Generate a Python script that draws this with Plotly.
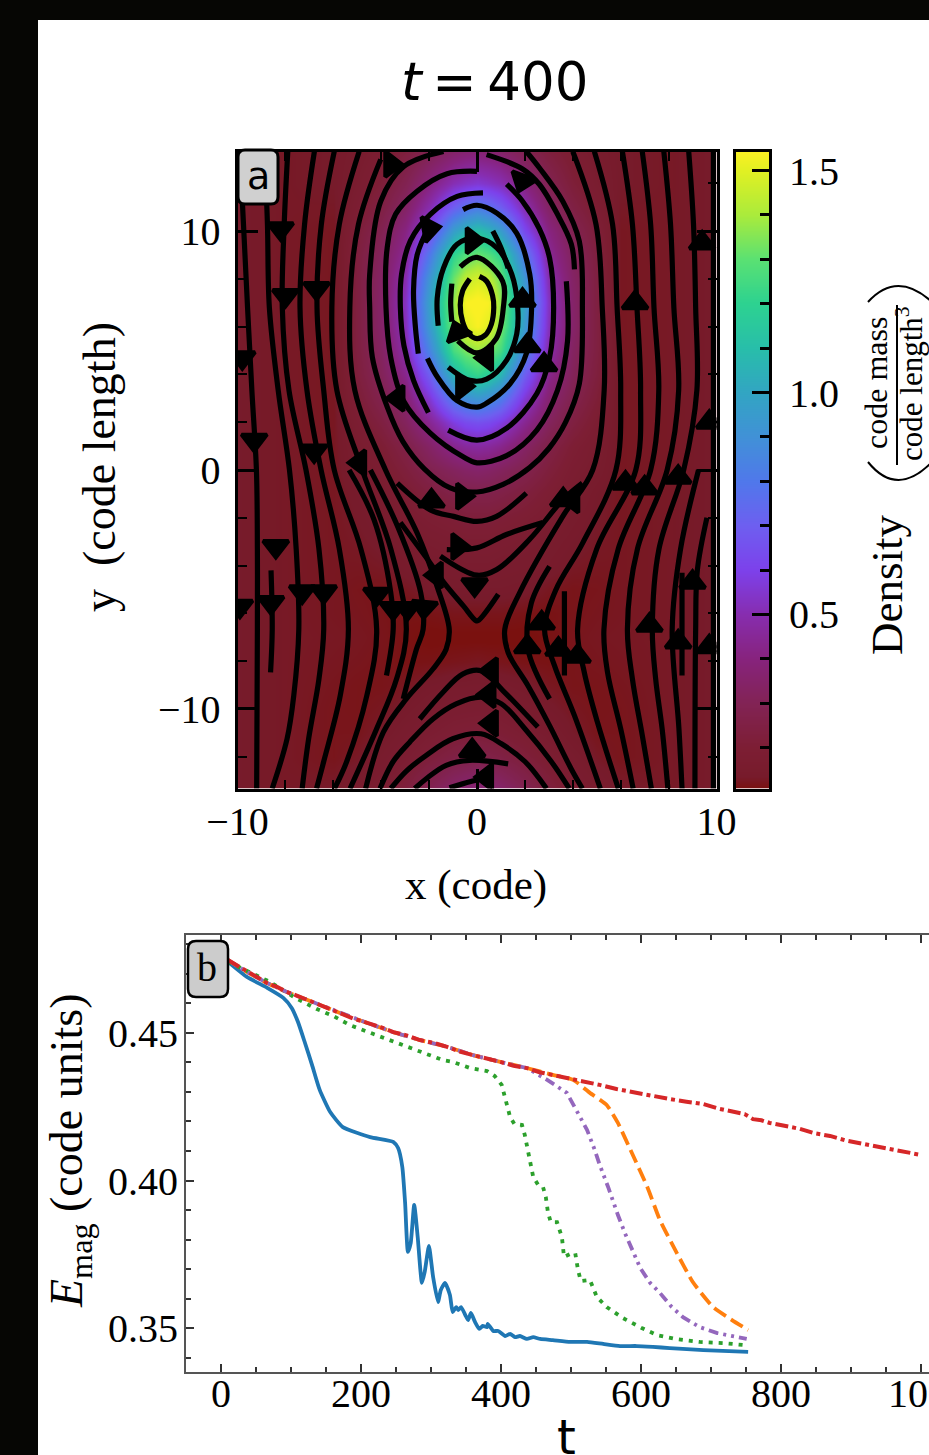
import plotly.graph_objects as go

W, H = 929, 1455
SERIF = "Liberation Serif"
SANS = "DejaVu Sans"

# ---------- panel a: density table (rows top to bottom, columns |x|) ----------
density_x_half = [0, .5, 1, 2, 3, 4, 5, 6, 8, 10]
density_y = [13.33, 12, 11, 10, 9, 8, 7, 6, 5, 4, 3, 2, 1, 0, -1, -2, -3, -4, -5, -6, -7, -8, -9, -10, -11, -12, -13.33]
density_half = [
    [.38, .37, .35, .29, .23, .185, .155, .135, .13, .135],
    [.56, .54, .51, .40, .29, .215, .17, .135, .13, .135],
    [.82, .77, .70, .50, .34, .25, .19, .13, .13, .135],
    [1.12, 1.07, .97, .63, .41, .29, .22, .125, .13, .135],
    [1.32, 1.28, 1.2, .8, .45, .32, .235, .125, .13, .135],
    [1.48, 1.44, 1.32, .92, .5, .34, .24, .125, .13, .135],
    [1.56, 1.54, 1.37, .98, .53, .35, .24, .125, .13, .135],
    [1.54, 1.5, 1.35, .95, .52, .35, .24, .125, .13, .135],
    [1.38, 1.34, 1.26, .85, .49, .33, .24, .125, .13, .135],
    [1.22, 1.17, 1.07, .7, .43, .31, .23, .125, .13, .135],
    [.93, .89, .82, .56, .37, .28, .21, .125, .13, .135],
    [.65, .63, .58, .44, .32, .24, .185, .125, .13, .135],
    [.47, .46, .43, .34, .26, .2, .165, .125, .13, .135],
    [.35, .34, .32, .28, .225, .18, .155, .125, .13, .135],
    [.27, .27, .26, .23, .195, .165, .14, .125, .13, .135],
    [.22, .22, .21, .195, .175, .15, .135, .125, .13, .135],
    [.185, .185, .18, .17, .155, .14, .13, .125, .13, .135],
    [.165, .165, .16, .155, .145, .13, .125, .125, .13, .135],
    [.145, .145, .145, .14, .125, .118, .12, .125, .13, .135],
    [.12, .12, .12, .115, .113, .118, .122, .125, .13, .135],
    [.105, .105, .105, .105, .112, .12, .125, .127, .13, .135],
    [.125, .122, .12, .115, .113, .118, .122, .125, .13, .135],
    [.155, .152, .15, .14, .125, .118, .118, .122, .13, .135],
    [.18, .178, .175, .16, .14, .125, .118, .12, .13, .135],
    [.215, .21, .205, .185, .16, .135, .12, .12, .13, .135],
    [.27, .26, .25, .22, .185, .155, .13, .12, .13, .135],
    [.38, .37, .35, .29, .23, .185, .155, .135, .13, .135],
]

# colour ramp: value, colour
ramp_values = [.108, .135, .2, .3, .4, .5, .6, .7, .8, .9, 1.0, 1.1, 1.2, 1.3, 1.4, 1.5, 1.543]
ramp_colors = ["#7a110f", "#771b2b", "#7d1e34", "#822355", "#87237d", "#872daf", "#7d41eb", "#6e5ff0", "#5078eb",
               "#4191d7", "#32a5c3", "#28beaa", "#2dd291", "#5ae173", "#aaeb3c", "#e1f023", "#faf023"]

# ---------- panel a: field lines (x, y in code units) ----------
ring1_x = [.1, .4, .65, .7, .6, .35, 0, -.35, -.6, -.7, -.6, -.3]
ring1_y = [8.1, 7.9, 7.3, 6.8, 6.1, 5.65, 5.5, 5.7, 6.2, 6.9, 7.5, 8.0]
ring2_x = [-.7, 0, 1.07, 1.1, .8, 0, -.8]
ring2_y = [8.5, 8.9, 7.9, 6.8, 5.5, 4.9, 5.4]
ring2b_x = [-1.05, -1.1, -1.05]
ring2b_y = [7.8, 7.0, 6.2]
ring3_x = [-1.62, -1.66, -1.4, -.83, 0, .83, 1.45, 1.7, 1.66, 1.24, .4, -.3, -1.2]
ring3_y = [6.04, 7.2, 8.45, 9.45, 9.7, 9.3, 8.2, 6.8, 5.7, 4.6, 3.8, 3.75, 4.3]
ring3b_x = [.66, 1.0, 1.3]
ring3b_y = [10, 9.3, 8.45]
ring4_x = [-.58, 0, .83, 1.66, 2.2, 2.28, 2.07, 1.37, .41, 0, -.83, -1.66, -2.07]
ring4_y = [10.9, 11.08, 10.75, 9.9, 8.2, 6.8, 4.9, 3.6, 2.8, 2.63, 2.9, 3.9, 4.67]
ring4b_x = [-1.95, -2.5, -2.65, -2.57, -2.45]
ring4b_y = [10.3, 9.0, 7.5, 5.96, 4.87]
ring5_x = [.25, -.83, -1.95, -2.78, -3.15, -3.2, -3.05, -2.65, -2.03]
ring5_y = [11.6, 11.45, 10.7, 9.6, 8.2, 6.8, 5.2, 3.75, 2.4]
ring5b_x = [-1.2, 0, 1.24, 2.5, 3.03, 3.2, 3.03, 2.6, 1.9, 1.24]
ring5b_y = [1.67, 1.25, 1.75, 3.2, 4.7, 6.8, 8.87, 10.1, 11.25, 11.96]
ring6_x = [0, -1.25, -2.5, -3.4, -3.75, -3.8, -3.6, -3.07, -1.95, -.58, 0, 1.24, 2.5, 3.36, 3.78, 3.73]
ring6_y = [12.5, 12.4, 11.67, 10.7, 9.3, 6.8, 4.7, 2.9, 1.54, .55, .3, .6, 1.67, 3.33, 5.4, 7.9]
ring6b_x = [4.07, 3.94, 3.36, 2.6, 1.9, .4]
ring6b_y = [8.4, 9.45, 10.7, 11.96, 12.6, 13.2]
ring7_x = [-1.4, -3.06, -4.02, -4.48, -4.48, -4.37, -3.75, -3.1, -2.2, -1.12, 0, 1.09, 2.2, 3.0, 3.7, 4.27, 4.4, 4.27, 3.58, 2.61, 2.06]
ring7_y = [13.33, 12.7, 11.25, 8.19, 6.8, 4.72, 2.64, 1.2, .05, -.75, -.92, -.6, .1, .9, 2.0, 3.6, 6.8, 9.58, 11.25, 12.64, 13.33]
arc_a_x = [-3.33, -1.95, -.98, 0, .82, 2.06]
arc_a_y = [-.55, -1.67, -1.94, -2.15, -1.94, -.97]
arc_c_x = [-1.26, 0, 1.23, 2.75]
arc_c_y = [-3.33, -3.26, -2.7, -2.2]
arc_d_x = [-1.53, 0, .82, 2.2, 3.58, 4.4]
arc_d_y = [-3.6, -4.4, -4.17, -2.9, -1.25, -.55]
vee_x = [-3.2, -1.95, -1.39, -.56, -.05, .05, .89]
vee_y = [-2.2, -3.9, -4.7, -5.7, -6.3, -6.3, -5.2]

left1_x = [-9.9, -9.75, -9.58, -9.4, -9.21, -9.17, -9.17, -9.2]
left1_y = [13.33, 10.28, 6.8, 3.33, 0, -3.3, -6.67, -13.33]
left2_x = [-8.87, -8.75, -8.67, -8.3, -7.83, -7.55, -7.44, -7.65, -7.93, -8.55]
left2_y = [13.33, 10.28, 6.8, 3.33, 0, -3.3, -6.67, -9.44, -11.25, -13.33]
left3_x = [-7.9, -8.05, -8.13, -7.85, -7.14, -6.6, -6.4, -6.6, -7.03, -7.3]
left3_y = [13.33, 10.28, 6.8, 3.33, 0, -3.3, -6.67, -8.75, -11.25, -13.33]
left4_x = [-6.79, -7.2, -7.39, -7.1, -6.51, -5.75, -5.37, -5.71, -6.4, -6.7]
left4_y = [13.33, 10.28, 6.8, 3.33, 0, -3.3, -6.67, -9.44, -12.2, -13.33]
left5_x = [-5.96, -6.5, -6.68, -6.4, -5.96, -4.85, -4.19, -4.6, -5.44, -5.95]
left5_y = [13.33, 10.28, 6.8, 3.33, 0, -3.3, -6.67, -9.44, -12.2, -13.33]
left6_x = [-4.92, -5.75, -6.06, -5.85, -4.79, -3.6, -2.95, -3.36, -4.19, -5.3]
left6_y = [13.33, 10.28, 6.8, 3.33, 0, -3.3, -6.67, -8.75, -10.83, -13.33]
left7_x = [-4.02, -4.95, -5.31, -5.1, -3.82, -2.5, -1.67, -1.16, -1.29, -1.84, -2.95, -3.91, -4.65]
left7_y = [13.0, 10.28, 6.8, 3.33, 0, -2.64, -4.86, -6.67, -7.5, -8.33, -9.58, -10.97, -13.33]
left_b1_x = [-8.6, -8.55, -8.62]
left_b1_y = [-4.2, -6.67, -8.47]
left_b2_x = [-5.34, -4.3, -3.6, -3.5, -3.78]
left_b2_y = [0, -2.08, -5.14, -6.67, -8.6]
left_b3_x = [-4.45, -3.3, -2.35, -2.25, -2.53, -3.08]
left_b3_y = [0, -2.4, -5.14, -6.67, -7.5, -9.58]

right1_x = [9.87, 9.87, 9.87, 9.87, 9.87]
right1_y = [13.33, 6.8, 0, -6.67, -13.33]
right2_x = [8.84, 9.04, 9.13, 9.18, 8.63, 7.6, 7.32, 7.46, 7.73, 7.97]
right2_y = [13.33, 10.28, 6.8, 3.33, 0, -3.3, -6.67, -8.75, -10.83, -13.33]
right3_x = [7.8, 8.08, 8.22, 8.42, 7.94, 6.7, 6.28, 6.49, 6.9, 7.28]
right3_y = [13.33, 10.28, 6.8, 3.33, 0, -3.3, -6.67, -8.75, -11.1, -13.33]
right4_x = [6.9, 7.25, 7.39, 7.59, 7.25, 5.9, 5.3, 5.45, 6, 6.52]
right4_y = [13.33, 10.28, 6.8, 3.33, 0, -3.3, -6.67, -8.47, -10.83, -13.33]
right5_x = [6.07, 6.49, 6.68, 6.83, 6.63, 5.0, 4.2, 4.48, 5.03, 5.9]
right5_y = [13.33, 10.28, 6.8, 3.33, 0, -3.3, -6.67, -8.47, -10.56, -13.33]
right6_x = [4.9, 5.66, 5.85, 6, 5.8, 4.41, 3.3, 2.82, 3.24, 4.07, 5.15]
right6_y = [13.33, 10.28, 6.8, 3.33, 0, -3.06, -5, -6.67, -8.2, -10.28, -13.33]
right7_x = [4.0, 4.97, 5.23, 5.31, 4.83, 3.58, 1.78, 1.16, 1.3, 2.13, 3.03, 3.93, 4.4]
right7_y = [13.33, 10.28, 6.8, 3.33, 0, -1.94, -5.14, -6.67, -7.64, -9.03, -10.7, -12.5, -13.33]
right_i_x = [9.25, 8.5, 8.15, 8.43, 8.56]
right_i_y = [0, -3.3, -6.67, -10.8, -13.33]
right_j_x = [9.6, 9.2, 9.13, 9.1]
right_j_y = [-2, -4.2, -6.67, -13.33]
right_b1_x = [8.56, 8.56]
right_b1_y = [-4.3, -8.6]
right_b2_x = [3.65, 3.65]
right_b2_y = [-5.07, -8.6]
right_b3_x = [3.03, 2.27, 2.13, 3.03]
right_b3_y = [-4.03, -5.56, -7.5, -9.58]

arch1_x = [-2.39, -1.42, -.6, .17, 1.09, 2.54]
arch1_y = [-10.42, -9.3, -8.54, -8.4, -9.24, -10.76]
arch2_x = [-4.05, -3.5, -2.81, -1.84, -.87, .17, 1.02, 2, 3.1, 3.85]
arch2_y = [-13.33, -12.2, -11.39, -10.42, -9.79, -9.51, -9.79, -10.83, -12.2, -13.33]
arch3_x = [-3.6, -2.95, -2.12, -1.01, .17, 1.02, 2, 2.9]
arch3_y = [-13.33, -12.6, -11.94, -11.25, -11.04, -11.46, -12.2, -13.33]
arch4_x = [-2.6, -2.12, -1.29, -.32, 1.3]
arch4_y = [-13.33, -12.92, -12.36, -12.15, -12.3]
arch5_x = [-1.15, -.3, .3]
arch5_y = [-13.3, -13.05, -12.9]

field_lines = [
    (ring1_x, ring1_y), (ring2_x, ring2_y), (ring2b_x, ring2b_y), (ring3_x, ring3_y), (ring3b_x, ring3b_y),
    (ring4_x, ring4_y), (ring4b_x, ring4b_y), (ring5_x, ring5_y), (ring5b_x, ring5b_y), (ring6_x, ring6_y),
    (ring6b_x, ring6b_y), (ring7_x, ring7_y), (arc_a_x, arc_a_y), (arc_c_x, arc_c_y), (arc_d_x, arc_d_y),
    (vee_x, vee_y), (left1_x, left1_y), (left2_x, left2_y), (left3_x, left3_y), (left4_x, left4_y),
    (left5_x, left5_y), (left6_x, left6_y), (left7_x, left7_y), (left_b1_x, left_b1_y), (left_b2_x, left_b2_y),
    (left_b3_x, left_b3_y), (right1_x, right1_y), (right2_x, right2_y), (right3_x, right3_y), (right4_x, right4_y),
    (right5_x, right5_y), (right6_x, right6_y), (right7_x, right7_y), (right_i_x, right_i_y), (right_j_x, right_j_y),
    (right_b1_x, right_b1_y), (right_b2_x, right_b2_y), (right_b3_x, right_b3_y), (arch1_x, arch1_y),
    (arch2_x, arch2_y), (arch3_x, arch3_y), (arch4_x, arch4_y), (arch5_x, arch5_y),
]

# arrow heads: position (code units) and direction (degrees clockwise from up)
arrow_x = [-8.2, -8.0, -6.7, -9.3, -6.8, -8.4, -7.3, -6.4, -8.6, -9.9, -4.2, -3.5, -2.9, -2.2, -9.8,
           6.6, 9.4, 8.4, 7.0, 6.2, 4.0, 9.0, 7.2, 8.4, 2.1, 3.4, 4.2, 2.7, 9.7, 9.7,
           -0.2, 1.9, 2.1, 2.8, -.8, .4, -.6, -3.3, -4.9, -1.9, -.6, -.8, -1.7, -.1, .6, .5, -.2, .6, .4,
           3.6, 1.9, -2.0, -3.6]
arrow_y = [10.1, 7.3, 7.6, 1.25, .8, -3.2, -5.1, -5.1, -5.55, -5.7, -5.2, -5.8, -5.8, -5.75, 4.7,
           7.0, 9.5, -.3, -.75, -.55, -1.25, -4.7, -6.5, -7.2, -7.4, -7.5, -7.8, -6.4, -7.4, 2.0,
           9.6, 7.1, 5.2, 4.4, 5.75, 4.7, 3.5, 3.0, .3, -1.3, -1.1, -3.2, -4.4, -4.8, -8.4, -9.4, -11.75, -10.6, -12.85,
           -1.25, 12.1, 10.1, 12.8]
arrow_angle = [180, 180, 180, 180, 180, 180, 180, 180, 180, 180, 180, 180, 180, 185, 180,
               0, 0, 0, 0, 0, 270, 0, 0, 0, 0, 0, 0, 0, 0, 0,
               90, 0, 0, 0, 340, 270, 90, 270, 270, 0, 90, 90, 270, 180, 270, 270, 0, 270, 270,
               0, 200, 80, 90]

# colour bar and axis ticks
colorbar_range = [.108, 1.543]

# ---------- panel b: magnetic energy against time ----------
blue_t = [10, 37, 66, 89, 101, 110, 120, 130, 141, 156, 174, 213, 246, 253, 259, 263, 267, 271, 276, 281, 287, 291, 297,
          303, 310, 314, 320, 327, 331, 336, 339, 343, 349, 353, 357, 363, 369, 374, 380, 381, 389, 396, 406, 413, 420,
          427, 437, 446, 456, 474, 499, 523, 546, 570, 594, 617, 641, 689, 753]
blue_E = [.4741, .4690, .4653, .4619, .4585, .4537, .4466, .4392, .4307, .4232, .4181, .4147, .4131, .4110, .4046, .3924,
          .3758, .3788, .3917, .3808, .3653, .3690, .3778, .3673, .3588, .3629, .3653, .3612, .3554, .3571, .3561, .3571,
          .3544, .3527, .3551, .3520, .3497, .3507, .3503, .3514, .3490, .3490, .3473, .3480, .3469, .3473, .3463, .3469,
          .3463, .3459, .3453, .3453, .3446, .3439, .3439, .3436, .3432, .3425, .3419]
green_t = [10, 41, 70, 106, 137, 160, 184, 217, 251, 284, 317, 331, 356, 380, 391, 401, 407, 413, 419, 430, 434, 439, 443,
           446, 453, 460, 464, 467, 471, 480, 487, 490, 499, 506, 510, 514, 527, 537, 551, 574, 601, 623, 649, 684, 717, 749]
green_E = [.4741, .4707, .4673, .4619, .4581, .4558, .4527, .4497, .4466, .4436, .4408, .4402, .4381, .4371, .4354, .4324,
           .4273, .4215, .4192, .4188, .4154, .4097, .4042, .4012, .3985, .3978, .3944, .3893, .3859, .3859, .3808, .3741,
           .3751, .3754, .3697, .3659, .3663, .3605, .3571, .3534, .3500, .3476, .3463, .3453, .3449, .3442]
shared_t = [10, 37, 66, 94, 131, 170, 209, 246, 284, 323, 360, 399, 437]
shared_E = [.4747, .4707, .4669, .4639, .4605, .4568, .4534, .4503, .4476, .4453, .4425, .4402, .4381]
purple_t = [466, 494, 513, 523, 534, 541, 553, 560, 567, 577, 589, 599, 613, 627, 644, 660, 684, 709, 751]
purple_E = [.4341, .4297, .4215, .4171, .4103, .4053, .3978, .3927, .3883, .3822, .3754, .3703, .3653, .3619, .3571,
            .3537, .3503, .3483, .3463]
orange_t = [474, 503, 527, 551, 567, 587, 609, 627, 649, 674, 703, 730, 753]
orange_E = [.4358, .4341, .4297, .4256, .4195, .4093, .3978, .3866, .3764, .3656, .3571, .3527, .3493]
red_t = [10, 20, 37, 50, 66, 80, 94, 110, 131, 150, 170, 190, 209, 228, 246, 265, 284, 303, 323, 341, 360, 380, 399, 418,
         437, 455, 474, 490, 503, 520, 541, 565, 594, 618, 641, 665, 689, 712, 737, 748, 760, 772, 784, 805, 827, 848,
         870, 892, 913, 935, 956, 978, 1001]
red_E = [.4747, .4733, .4707, .4692, .4669, .4656, .4639, .4625, .4605, .4584, .4568, .4548, .4534, .4520, .4503, .4492,
         .4476, .4467, .4453, .4437, .4425, .4414, .4402, .4389, .4381, .4367, .4358, .4347, .4341, .4333, .4324, .4310,
         .4297, .4284, .4276, .4267, .4259, .4243, .4232, .4225, .4208, .4204, .4195, .4185, .4175, .4160, .4151, .4136,
         .4127, .4117, .4107, .4097, .4086]


def px(x):
    return x / W


def py(y):
    return 1 - y / H


def rounded(x0, y0, x1, y1, r):
    return (f"M {px(x0 + r)} {py(y0)} L {px(x1 - r)} {py(y0)} Q {px(x1)} {py(y0)} {px(x1)} {py(y0 + r)} "
            f"L {px(x1)} {py(y1 - r)} Q {px(x1)} {py(y1)} {px(x1 - r)} {py(y1)} L {px(x0 + r)} {py(y1)} "
            f"Q {px(x0)} {py(y1)} {px(x0)} {py(y1 - r)} L {px(x0)} {py(y0 + r)} Q {px(x0)} {py(y0)} {px(x0 + r)} {py(y0)} Z")


cmin, cmax = colorbar_range
scale = [[(v - cmin) / (cmax - cmin), c] for v, c in zip(ramp_values, ramp_colors)]
density_x = [-v for v in density_x_half[:0:-1]] + density_x_half
density = [row[:0:-1] + row for row in density_half]

fig = go.Figure()
fig.add_trace(go.Heatmap(x=density_x, y=density_y[::-1], z=density[::-1], zsmooth="best", colorscale=scale,
                         zmin=cmin, zmax=cmax, showscale=False, hoverinfo="skip", xaxis="x", yaxis="y"))
for xs, ys in field_lines:
    fig.add_trace(go.Scatter(x=xs, y=ys, mode="lines", line=dict(color="black", width=5.2, shape="spline", smoothing=1),
                             hoverinfo="skip", showlegend=False, xaxis="x", yaxis="y"))
fig.add_trace(go.Scatter(x=arrow_x, y=arrow_y, mode="markers", hoverinfo="skip", showlegend=False, xaxis="x", yaxis="y",
                         marker=dict(symbol="triangle-up", size=22, color="black", angle=arrow_angle,
                                     line=dict(color="black", width=4))))
fig.add_trace(go.Heatmap(x=[0, 1], y=colorbar_range, z=[[cmin, cmin], [cmax, cmax]], zsmooth="best", colorscale=scale,
                         zmin=cmin, zmax=cmax, showscale=False, hoverinfo="skip", xaxis="x2", yaxis="y2"))

series = [
    (blue_t, blue_E, "#1f77b4", "solid", 3.8, "spline"),
    (shared_t + orange_t, shared_E + orange_E, "#ff7f0e", "14px,6px", 3.8, "spline"),
    (green_t, green_E, "#2ca02c", "4px,6px", 3.8, "linear"),
    (shared_t + purple_t, shared_E + purple_E, "#9467bd", "10px,5px,3px,5px,3px,5px", 3.8, "linear"),
    (red_t, red_E, "#d62728", "13px,4px,4px,4px", 4, "linear"),
]
for t, e, color, dash, width, shape in series:
    line = dict(color=color, dash=dash, width=width, shape=shape)
    if shape == "spline":
        line["smoothing"] = .5
    fig.add_trace(go.Scatter(x=t, y=e, mode="lines", line=line, hoverinfo="skip", showlegend=False, xaxis="x3", yaxis="y3"))

tick_a = dict(family=SERIF, size=40, color="black")
fig.update_layout(
    width=W, height=H, margin=dict(l=0, r=0, t=0, b=0, autoexpand=False), paper_bgcolor="#060604", plot_bgcolor="rgba(0,0,0,0)",
    showlegend=False, font=dict(family=SERIF, color="black"),
    xaxis=dict(domain=[px(237.5), px(716.5)], range=[-10, 10], tickvals=[-10, 0, 10], ticks="inside", ticklen=20, tickwidth=2.5,
               tickcolor="black", mirror="allticks", showline=True, linecolor="black", linewidth=3, showgrid=False,
               zeroline=False, tickfont=tick_a, ticklabelstandoff=-5,
               minor=dict(ticks="inside", ticklen=9, tickwidth=2, tickcolor="black", dtick=2, tick0=0, showgrid=False),
               anchor="y"),
    yaxis=dict(domain=[py(788.5), py(151.5)], range=[-13.33, 13.33], tickvals=[-10, 0, 10], ticks="inside", ticklen=20, tickwidth=2.5,
               tickcolor="black", mirror="allticks", showline=True, linecolor="black", linewidth=3, showgrid=False,
               zeroline=False, tickfont=tick_a, ticklabelstandoff=6,
               minor=dict(ticks="inside", ticklen=9, tickwidth=2, tickcolor="black", dtick=2, tick0=0, showgrid=False),
               anchor="x"),
    xaxis2=dict(domain=[px(735.5), px(769)], range=[0, 1], showticklabels=False, ticks="", showline=True, linecolor="black",
                linewidth=3, mirror=True, showgrid=False, zeroline=False, anchor="y2"),
    yaxis2=dict(domain=[py(788.5), py(151.5)], range=colorbar_range, side="right", tick0=0, dtick=.5, tickformat=".1f",
                ticks="inside", ticklen=17, tickwidth=3, tickcolor="black", showline=True, linecolor="black", linewidth=3,
                mirror=True, showgrid=False, zeroline=False, tickfont=tick_a, ticklabelstandoff=9,
                minor=dict(ticks="inside", ticklen=9, tickwidth=2.5, tickcolor="black", dtick=.1, tick0=0, showgrid=False),
                anchor="x2"),
    xaxis3=dict(domain=[px(186), 1], range=[-50, 1011.4], tick0=0, dtick=200, ticks="inside", ticklen=8, tickwidth=2,
                tickcolor="#333333", mirror="allticks", showline=True, linecolor="#555555", linewidth=2, showgrid=False,
                zeroline=False, tickfont=tick_a, ticklabelstandoff=-15,
                minor=dict(ticks="inside", ticklen=5, tickwidth=1.5, tickcolor="#333333", dtick=50, tick0=0, showgrid=False),
                anchor="y3"),
    yaxis3=dict(domain=[py(1372), py(935)], range=[.3351, .4832], tick0=.35, dtick=.05, tickformat=".2f", ticks="inside",
                ticklen=8, tickwidth=2, tickcolor="#333333", showline=True, linecolor="#555555", linewidth=2,
                showgrid=False, zeroline=False, tickfont=tick_a, ticklabelstandoff=-2,
                minor=dict(ticks="inside", ticklen=5, tickwidth=1.5, tickcolor="#333333", dtick=.01, tick0=.35, showgrid=False),
                anchor="x3"),
)


def note(text, x, y, size, family=SERIF, angle=0, xanchor="center"):
    fig.add_annotation(text=text, x=px(x), y=py(y), xref="paper", yref="paper", showarrow=False, textangle=angle,
                       xanchor=xanchor, yanchor="middle", font=dict(family=family, size=size, color="black"))


note("<i>t</i>\u2009=\u2009400", 495, 81, 53, SANS)
note("x (code)", 476, 885, 43)
note("y  (code length)", 100, 467, 46, angle=-90)
note("Density", 887, 585, 45, angle=-90)
note("code mass", 876, 383, 32, angle=-90)
note("code length<sup>3</sup>", 910, 384, 31, angle=-90)
note("a", 258, 176, 38, SANS)
note("b", 207, 967, 40)
note("t", 566, 1437, 48, SANS)
note("<i>E</i><sub>mag</sub> (code units)", 70, 1151, 46, angle=-90)
note("1000", 886, 1393, 40, xanchor="left")

shape_style = dict(xref="paper", yref="paper")
fig.add_shape(type="rect", x0=px(38), x1=1, y0=0, y1=py(20), fillcolor="white", line_width=0, layer="below", **shape_style)
fig.add_shape(type="path", path=rounded(238, 150, 278, 204, 7), fillcolor="#d0d0d0", line=dict(color="black", width=3), **shape_style)
fig.add_shape(type="path", path=rounded(188, 941, 228, 997, 8), fillcolor="#cccccc", line=dict(color="black", width=2.5), **shape_style)
fig.add_shape(type="line", x0=px(897), x1=px(897), y0=py(305), y1=py(465), line=dict(color="black", width=2), **shape_style)
fig.add_shape(type="path", path=f"M {px(868)} {py(302)} Q {px(897)} {py(270)} {px(932)} {py(302)}",
              line=dict(color="black", width=2), **shape_style)
fig.add_shape(type="path", path=f"M {px(868)} {py(462)} Q {px(897)} {py(498)} {px(932)} {py(462)}",
              line=dict(color="black", width=2), **shape_style)

fig.write_html("out.html", config=dict(displayModeBar=False),
               post_script="document.body.style.margin='0';document.documentElement.style.overflow='hidden';")
